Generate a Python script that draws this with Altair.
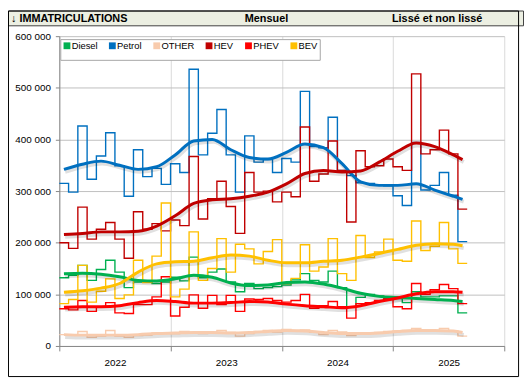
import json
import altair as alt
import pandas as pd

# ---------------- data (thousands of registrations, monthly from Jan 2022) ----------------
SERIES = ["Diesel", "Petrol", "OTHER", "HEV", "PHEV", "BEV"]
COLORS = ["#00B050", "#0070C0", "#F8CBAD", "#C00000", "#FF0000", "#FFC000"]
YEARS = ["2022", "2023", "2024", "2025"]
Y_TICKS = [0, 100000, 200000, 300000, 400000, 500000, 600000]
YEAR_TICKS = [0, 12, 24, 36, 48]

DIESEL = [132, 137, 156, 127, 148, 166, 143, 113, 124, 124, 121, 124, 133, 126, 172, 132,
          143, 149, 124, 105, 121, 111, 113, 115, 118, 128, 140, 127, 124, 145, 113, 76,
          94, 100, 97, 94, 92, 84, 105, 95, 95, 97, 97, 64]
PETROL = [315, 298, 426, 323, 368, 413, 349, 290, 380, 328, 344, 313, 353, 336, 536, 370,
          412, 458, 370, 298, 407, 356, 361, 336, 363, 356, 493, 386, 384, 443, 340, 330,
          316, 315, 312, 310, 291, 272, 394, 302, 311, 336, 292, 202]
OTHER = [22, 21, 28, 17, 19, 30, 19, 17, 20, 21, 25, 25, 24, 28, 26, 24,
         26, 30, 26, 19, 24, 28, 30, 27, 32, 30, 31, 27, 22, 30, 27, 20,
         24, 25, 26, 28, 29, 30, 34, 30, 29, 34, 29, 19]
HEV = [200, 189, 269, 207, 226, 239, 207, 170, 260, 226, 237, 223, 244, 233, 367, 246,
       285, 319, 270, 218, 336, 298, 300, 279, 298, 289, 424, 319, 333, 397, 340, 240,
       378, 347, 349, 362, 347, 340, 527, 372, 380, 418, 372, 265]
PHEV = [72, 70, 88, 67, 76, 84, 64, 63, 80, 80, 95, 134, 58, 75, 99, 73,
        98, 80, 98, 67, 91, 90, 92, 88, 85, 88, 100, 73, 78, 86, 76, 54,
        82, 84, 88, 92, 76, 72, 121, 100, 109, 119, 111, 82]
BEV = [82, 90, 156, 85, 106, 130, 92, 99, 166, 123, 174, 277, 95, 110, 221, 127,
       150, 208, 143, 197, 188, 159, 183, 206, 121, 131, 196, 145, 153, 208, 140, 127,
       214, 171, 182, 207, 166, 164, 242, 185, 193, 239, 188, 160]

# smoothed series ("lissé"), read at these month indexes
S_MONTHS = [0, 2, 4, 6, 8, 10, 12, 14, 16, 18, 20, 22, 24, 26, 28, 30, 32, 34, 36, 38, 40, 42, 43]
DIESEL_S = [140, 141, 139, 134, 127, 126, 130, 137, 133, 122, 117, 118, 123, 124, 120, 112, 102, 96, 94, 92, 90, 88, 86]
PETROL_S = [342, 352, 358, 350, 342, 347, 370, 397, 400, 380, 365, 362, 375, 391, 384, 353, 318, 311, 311, 314, 302, 290, 284]
HEV_S = [216, 218, 221, 221, 222, 232, 252, 276, 283, 285, 290, 298, 314, 334, 340, 337, 339, 356, 377, 393, 386, 370, 361]
PHEV_S = [75, 76, 76, 78, 84, 88, 86, 83, 83, 84, 86, 85, 81, 78, 76, 74, 78, 86, 93, 101, 105, 105, 104]
BEV_S = [104, 107, 112, 121, 143, 159, 163, 164, 171, 176, 174, 166, 161, 161, 164, 166, 172, 179, 187, 195, 198, 197, 194]
OTHER_S = [22, 21, 21, 21, 22, 24, 25, 26, 26, 25, 26, 28, 30, 29, 26, 24, 24, 25, 28, 30, 30, 29, 26]

MONTHLY = {"Diesel": DIESEL, "Petrol": PETROL, "OTHER": OTHER, "HEV": HEV, "PHEV": PHEV, "BEV": BEV}
SMOOTH = {"Diesel": DIESEL_S, "Petrol": PETROL_S, "OTHER": OTHER_S, "HEV": HEV_S, "PHEV": PHEV_S, "BEV": BEV_S}

step_rows, smooth_rows = [], []
for s in SERIES:
    vals = MONTHLY[s]
    for i, v in enumerate(vals):
        step_rows.append({"series": s, "month": i, "value": v * 1000})
    step_rows.append({"series": s, "month": len(vals), "value": vals[-1] * 1000})
    for m, v in zip(S_MONTHS, SMOOTH[s]):
        smooth_rows.append({"series": s, "month": m + 0.5, "value": v * 1000})
step_df = pd.DataFrame(step_rows)
smooth_df = pd.DataFrame(smooth_rows)

# ---------------- styling ----------------
FONT = "Liberation Sans"
W, H = 451, 314
PAD_L, PAD_T = 52, 26

x_scale = alt.Scale(domain=[0, 48], nice=False, zero=False)
y_scale = alt.Scale(domain=[0, 600000], nice=False)
color_scale = alt.Scale(domain=SERIES, range=COLORS)

legend = alt.Legend(
    orient="none", legendX=1, legendY=3, direction="horizontal", title=None,
    symbolType="square", symbolSize=2, symbolStrokeWidth=5.5,
    labelFont=FONT, labelFontSize=9.5, labelColor="#000000", labelOffset=0,
    columnPadding=3, gridAlign="none", fillColor="white", strokeColor="#A6A6A6", padding=2,
)

x_axis = alt.Axis(
    values=YEAR_TICKS, grid=True, gridColor="#D9D9D9", domainColor="#868686",
    tickColor="#868686", tickSize=5, labelOffset=W / 8, labelFlush=False,
    labelOverlap=False, labelPadding=7, labelFont=FONT, labelFontSize=10,
    labelColor="#000000", title=None,
    labelExpr=json.dumps(YEARS) + "[datum.value / 12] || ''",
)
y_axis = alt.Axis(
    values=Y_TICKS, grid=True, gridColor="#BFBFBF", domainColor="#868686",
    tickColor="#868686", tickSize=4, labelPadding=5, labelFont=FONT,
    labelFontSize=10, labelColor="#000000", title=None,
    labelExpr="replace(format(datum.value, ','), ',', ' ')",
)

X = alt.X("month:Q", scale=x_scale, axis=x_axis)
Y = alt.Y("value:Q", scale=y_scale, axis=y_axis)
C = alt.Color("series:N", scale=color_scale, sort=SERIES, legend=legend)

one = pd.DataFrame({"k": [0]})

frame = alt.Chart(one).mark_rect(fillOpacity=0, stroke="#000000", strokeWidth=1).encode(
    x=alt.value(-PAD_L + 0.5), x2=alt.value(W + 14.5),
    y=alt.value(-PAD_T + 0.5), y2=alt.value(H + 31),
)
bar = alt.Chart(one).mark_rect(fill="#ECEFE2", stroke="#404040", strokeWidth=1).encode(
    x=alt.value(-PAD_L + 0.5), x2=alt.value(W + 19.5),
    y=alt.value(-PAD_T + 0.5), y2=alt.value(-PAD_T + 15.5),
)

TITLE_TEXTS = ["\u2193 IMMATRICULATIONS", "Mensuel", "Liss\u00e9 et non liss\u00e9"]
t1 = alt.Chart(one).mark_text(font=FONT, fontSize=11, fontWeight="bold", align="left",
                              baseline="middle", color="#000000", text=TITLE_TEXTS[0]).encode(
    x=alt.value(-PAD_L + 3), y=alt.value(-PAD_T + 8.5))
t2 = alt.Chart(one).mark_text(font=FONT, fontSize=11, fontWeight="bold", align="center",
                              baseline="middle", color="#000000", text=TITLE_TEXTS[1]).encode(
    x=alt.value(210), y=alt.value(-PAD_T + 8.5))
t3 = alt.Chart(one).mark_text(font=FONT, fontSize=11, fontWeight="bold", align="center",
                              baseline="middle", color="#000000", text=TITLE_TEXTS[2]).encode(
    x=alt.value(383), y=alt.value(-PAD_T + 8.5))

step = alt.Chart(step_df).mark_line(interpolate="step-after", strokeWidth=1.4).encode(
    x=X, y=Y, color=C, order=alt.Order("month:Q"))

shadow = alt.Chart(smooth_df).mark_line(
    interpolate="monotone", color="#000000", opacity=0.12, strokeWidth=4,
    xOffset=1.2, yOffset=2.4).encode(
    x=X, y=Y, detail="series:N", order=alt.Order("month:Q"))

smooth = alt.Chart(smooth_df).mark_line(interpolate="monotone", strokeWidth=3).encode(
    x=X, y=Y, color=C, order=alt.Order("month:Q"))

chart = alt.layer(bar, t1, t2, t3, step, shadow, smooth, frame).properties(
    width=W, height=H,
    autosize=alt.AutoSizeParams(type="none"),
    padding={"left": PAD_L, "top": PAD_T, "right": 20, "bottom": 36},
).configure_view(stroke=None)

chart.save("out.html", embed_options={"renderer": "svg", "actions": False})
